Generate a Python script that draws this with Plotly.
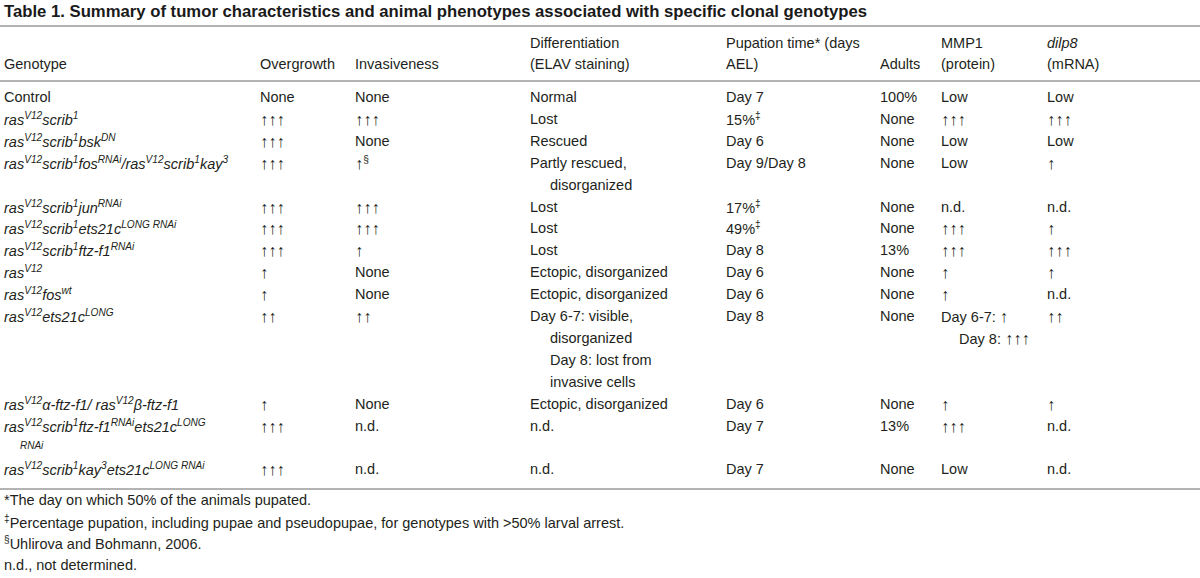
import plotly.graph_objects as go

# ---------------- data ----------------
title_text = "Table 1. Summary of tumor characteristics and animal phenotypes associated with specific clonal genotypes"

headers = {
    "genotype": ["", "Genotype"],
    "overgrowth": ["", "Overgrowth"],
    "invasiveness": ["", "Invasiveness"],
    "differentiation": ["Differentiation", "(ELAV staining)"],
    "pupation": ["Pupation time* (days", "AEL)"],
    "adults": ["", "Adults"],
    "mmp1": ["MMP1", "(protein)"],
    "dilp8": ["<i>dilp8</i>", "(mRNA)"],
}

genotypes = [
    "Control",
    "<i>ras<sup>V12</sup>scrib<sup>1</sup></i>",
    "<i>ras<sup>V12</sup>scrib<sup>1</sup>bsk<sup>DN</sup></i>",
    "<i>ras<sup>V12</sup>scrib<sup>1</sup>fos<sup>RNAi</sup>/ras<sup>V12</sup>scrib<sup>1</sup>kay<sup>3</sup></i>",
    "<i>ras<sup>V12</sup>scrib<sup>1</sup>jun<sup>RNAi</sup></i>",
    "<i>ras<sup>V12</sup>scrib<sup>1</sup>ets21c<sup>LONG RNAi</sup></i>",
    "<i>ras<sup>V12</sup>scrib<sup>1</sup>ftz-f1<sup>RNAi</sup></i>",
    "<i>ras<sup>V12</sup></i>",
    "<i>ras<sup>V12</sup>fos<sup>wt</sup></i>",
    "<i>ras<sup>V12</sup>ets21c<sup>LONG</sup></i>",
    "<i>ras<sup>V12</sup>α-ftz-f1/ ras<sup>V12</sup>β-ftz-f1</i>",
    "<i>ras<sup>V12</sup>scrib<sup>1</sup>ftz-f1<sup>RNAi</sup>ets21c<sup>LONG</sup></i>",
    "<i>ras<sup>V12</sup>scrib<sup>1</sup>kay<sup>3</sup>ets21c<sup>LONG RNAi</sup></i>",
]
genotype_wrap = {11: "RNAi"}  # wrapped remainder of the superscript

overgrowth = ["None", "↑↑↑", "↑↑↑", "↑↑↑", "↑↑↑", "↑↑↑", "↑↑↑", "↑", "↑", "↑↑", "↑", "↑↑↑", "↑↑↑"]
invasiveness = ["None", "↑↑↑", "None", "↑<sup>§</sup>", "↑↑↑", "↑↑↑", "↑", "None", "None", "↑↑", "None", "n.d.", "n.d."]
differentiation = [
    ["Normal"], ["Lost"], ["Rescued"], ["Partly rescued,", "disorganized"], ["Lost"], ["Lost"], ["Lost"],
    ["Ectopic, disorganized"], ["Ectopic, disorganized"],
    ["Day 6-7: visible,", "disorganized", "Day 8: lost from", "invasive cells"],
    ["Ectopic, disorganized"], ["n.d."], ["n.d."],
]
pupation = ["Day 7", "15%<sup>‡</sup>", "Day 6", "Day 9/Day 8", "17%<sup>‡</sup>", "49%<sup>‡</sup>", "Day 8",
            "Day 6", "Day 6", "Day 8", "Day 6", "Day 7", "Day 7"]
adults = ["100%", "None", "None", "None", "None", "None", "13%", "None", "None", "None", "None", "13%", "None"]
mmp1 = [["Low"], ["↑↑↑"], ["Low"], ["Low"], ["n.d."], ["↑↑↑"], ["↑↑↑"], ["↑"], ["↑"],
        ["Day 6-7: ↑", "Day 8: ↑↑↑"], ["↑"], ["↑↑↑"], ["Low"]]
dilp8 = ["Low", "↑↑↑", "Low", "↑", "n.d.", "↑", "↑↑↑", "↑", "n.d.", "↑↑", "↑", "n.d.", "n.d."]

footnotes = [
    "*The day on which 50% of the animals pupated.",
    "<sup>‡</sup>Percentage pupation, including pupae and pseudopupae, for genotypes with &gt;50% larval arrest.",
    "<sup>§</sup>Uhlirova and Bohmann, 2006.",
    "n.d., not determined.",
]

# ---------------- layout / positions ----------------
W, H = 1200, 578
FONT = "Liberation Sans, Arial, sans-serif"
TITLE_FONT = "Liberation Sans Narrow, Arial Narrow, Liberation Sans, sans-serif"
TXT = "#231f20"
RULE = "#9a9a9a"
FS = 14.5
ARROW_FS = 16.5

col_x = {"genotype": 2, "overgrowth": 258, "invasiveness": 353, "differentiation": 528,
         "pupation": 724, "adults": 878, "mmp1": 939, "dilp8": 1045}
cont_indent = {"differentiation": 20, "mmp1": 18}

row_start_line = [0, 1, 2, 3, 5, 6, 7, 8, 9, 10, 14, 15, 17]
body_y0, pitch = 97, 21.9
head_y = [43, 64]
foot_y0, foot_pitch = 500, 21.7
rules_y = [26, 81, 489]

annotations = []


def styled(text):
    return text.replace("↑", '<span style="font-size:%spx">↑</span>' % ARROW_FS)


def add(text, x, y, size=FS, family=FONT, color=TXT):
    annotations.append(dict(text=styled(text), x=x, y=y, xref="x", yref="y", xanchor="left",
                            yanchor="middle", showarrow=False,
                            font=dict(size=size, family=family, color=color)))


# title
add("<b>" + title_text + "</b>", 2, 11, size=16.7, family=TITLE_FONT, color="#1a1a1a")

# headers
for key, lines in headers.items():
    for k, t in enumerate(lines):
        if t:
            add(t, col_x[key], head_y[k])

# body
columns = {"genotype": genotypes, "overgrowth": overgrowth, "invasiveness": invasiveness,
           "differentiation": differentiation, "pupation": pupation, "adults": adults,
           "mmp1": mmp1, "dilp8": dilp8}
for key, vals in columns.items():
    for r, cell in enumerate(vals):
        lines = cell if isinstance(cell, list) else [cell]
        for k, t in enumerate(lines):
            x = col_x[key] + (cont_indent.get(key, 0) if k > 0 else 0)
            add(t, x, body_y0 + (row_start_line[r] + k) * pitch)

for r, t in genotype_wrap.items():
    add("<i>" + t + "</i>", col_x["genotype"] + 16, body_y0 + (row_start_line[r] + 0.9) * pitch, size=10)

# footnotes
for k, t in enumerate(footnotes):
    add(t, 2, foot_y0 + k * foot_pitch)

shapes = [dict(type="line", xref="x", yref="y", x0=0, x1=W, y0=y, y1=y,
               line=dict(color=RULE, width=1.6)) for y in rules_y]

fig = go.Figure()
fig.add_trace(go.Scatter(x=[0, W], y=[0, H], mode="markers", marker=dict(opacity=0), hoverinfo="skip",
                         showlegend=False))
fig.update_layout(
    width=W, height=H, margin=dict(l=0, r=0, t=0, b=0),
    paper_bgcolor="white", plot_bgcolor="white",
    xaxis=dict(range=[0, W], visible=False, fixedrange=True),
    yaxis=dict(range=[H, 0], visible=False, fixedrange=True),
    annotations=annotations, shapes=shapes, showlegend=False,
)
fig.write_html("out.html", config={"displayModeBar": False},
               post_script="document.body.style.margin='0';document.body.style.overflow='hidden';")
